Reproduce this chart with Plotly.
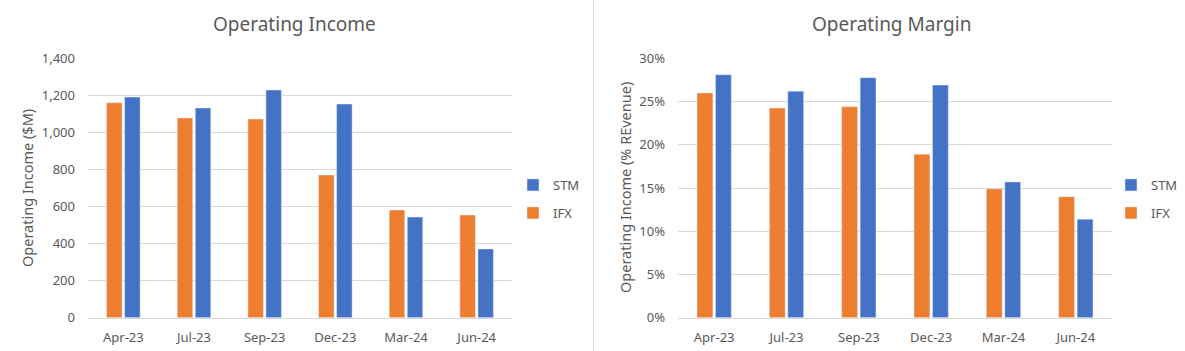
import plotly.graph_objects as go

categories = ["Apr-23", "Jul-23", "Sep-23", "Dec-23", "Mar-24", "Jun-24"]
ifx_income = [1160, 1078, 1072, 770, 581, 554]
stm_income = [1191, 1132, 1229, 1153, 543, 371]
ifx_margin = [0.260, 0.2425, 0.244, 0.189, 0.149, 0.140]
stm_margin = [0.281, 0.262, 0.2776, 0.269, 0.157, 0.114]

ORANGE = "#ED7D31"
BLUE = "#4472C4"
GRID = "#D9D9D9"
TXT = "#595959"
FONT = "Noto Sans"

fig = go.Figure()
fig.add_trace(go.Bar(x=categories, y=ifx_income, name="IFX", marker_color=ORANGE,
                     xaxis="x", yaxis="y", legend="legend3"))
fig.add_trace(go.Bar(x=categories, y=stm_income, name="STM", marker_color=BLUE,
                     xaxis="x", yaxis="y", legend="legend"))
fig.add_trace(go.Bar(x=categories, y=ifx_margin, name="IFX", marker_color=ORANGE,
                     xaxis="x2", yaxis="y2", legend="legend4"))
fig.add_trace(go.Bar(x=categories, y=stm_margin, name="STM", marker_color=BLUE,
                     xaxis="x2", yaxis="y2", legend="legend2"))

W, H = 1185, 351
def px(x):
    return x / W
def py(y):
    return 1 - y / H

ybot, ytop = py(317.7), py(58.3)

axis_common = dict(tickfont=dict(family=FONT, size=13, color=TXT), fixedrange=True)
legend_common = dict(xanchor="left", yanchor="middle",
                     font=dict(family=FONT, size=13, color=TXT), itemwidth=30,
                     tracegroupgap=0, bgcolor="rgba(0,0,0,0)", borderwidth=0)
fig.update_layout(
    width=W, height=H, margin=dict(l=0, r=0, t=0, b=0, autoexpand=False),
    paper_bgcolor="white", plot_bgcolor="white",
    barmode="group", bargap=0.49, bargroupgap=0.14,
    font=dict(family=FONT, color=TXT),
    showlegend=True,
    xaxis=dict(domain=[px(88), px(512)], anchor="y", showgrid=False,
               showline=True, linecolor=GRID, linewidth=1, ticks="",
               ticklabelstandoff=8, **axis_common),
    yaxis=dict(domain=[ybot, ytop], anchor="x", range=[0, 1400], dtick=200,
               tickformat=",d", showgrid=True, gridcolor=GRID, zeroline=False,
               showline=False, ticklabelstandoff=12, **axis_common),
    xaxis2=dict(domain=[px(678), px(1112)], anchor="y2", showgrid=False,
                showline=True, linecolor=GRID, linewidth=1, ticks="",
                ticklabelstandoff=8, **axis_common),
    yaxis2=dict(domain=[ybot, ytop], anchor="x2", range=[0, 0.30], dtick=0.05,
                tickformat=".0%", showgrid=True, gridcolor=GRID, zeroline=False,
                showline=False, ticklabelstandoff=12, **axis_common),
    legend=dict(x=px(513), y=py(185), **legend_common),
    legend3=dict(x=px(513), y=py(213), **legend_common),
    legend2=dict(x=px(1111), y=py(185), **legend_common),
    legend4=dict(x=px(1111), y=py(213), **legend_common),
    shapes=[dict(type="line", xref="paper", yref="paper", x0=px(593.5), x1=px(593.5),
                 y0=0, y1=1, line=dict(color="#D9D9D9", width=1))],
    annotations=[
        dict(text="Operating Income", x=px(294), y=py(24), xref="paper", yref="paper",
             xanchor="center", yanchor="middle",
             showarrow=False, font=dict(family=FONT, size=19, color=TXT)),
        dict(text="Operating Margin", x=px(891), y=py(24), xref="paper", yref="paper",
             xanchor="center", yanchor="middle",
             showarrow=False, font=dict(family=FONT, size=19, color=TXT)),
        dict(text="Operating Income ($M)", x=px(27), y=py(188), xref="paper", yref="paper",
             xanchor="center", yanchor="middle",
             showarrow=False, textangle=-90, font=dict(family=FONT, size=14.5, color=TXT)),
        dict(text="Operating Income (% REvenue)", x=px(625), y=py(188), xref="paper",
             yref="paper", xanchor="center", yanchor="middle",
             showarrow=False, textangle=-90,
             font=dict(family=FONT, size=14.5, color=TXT)),
    ],
)

fig.write_html("out.html")
